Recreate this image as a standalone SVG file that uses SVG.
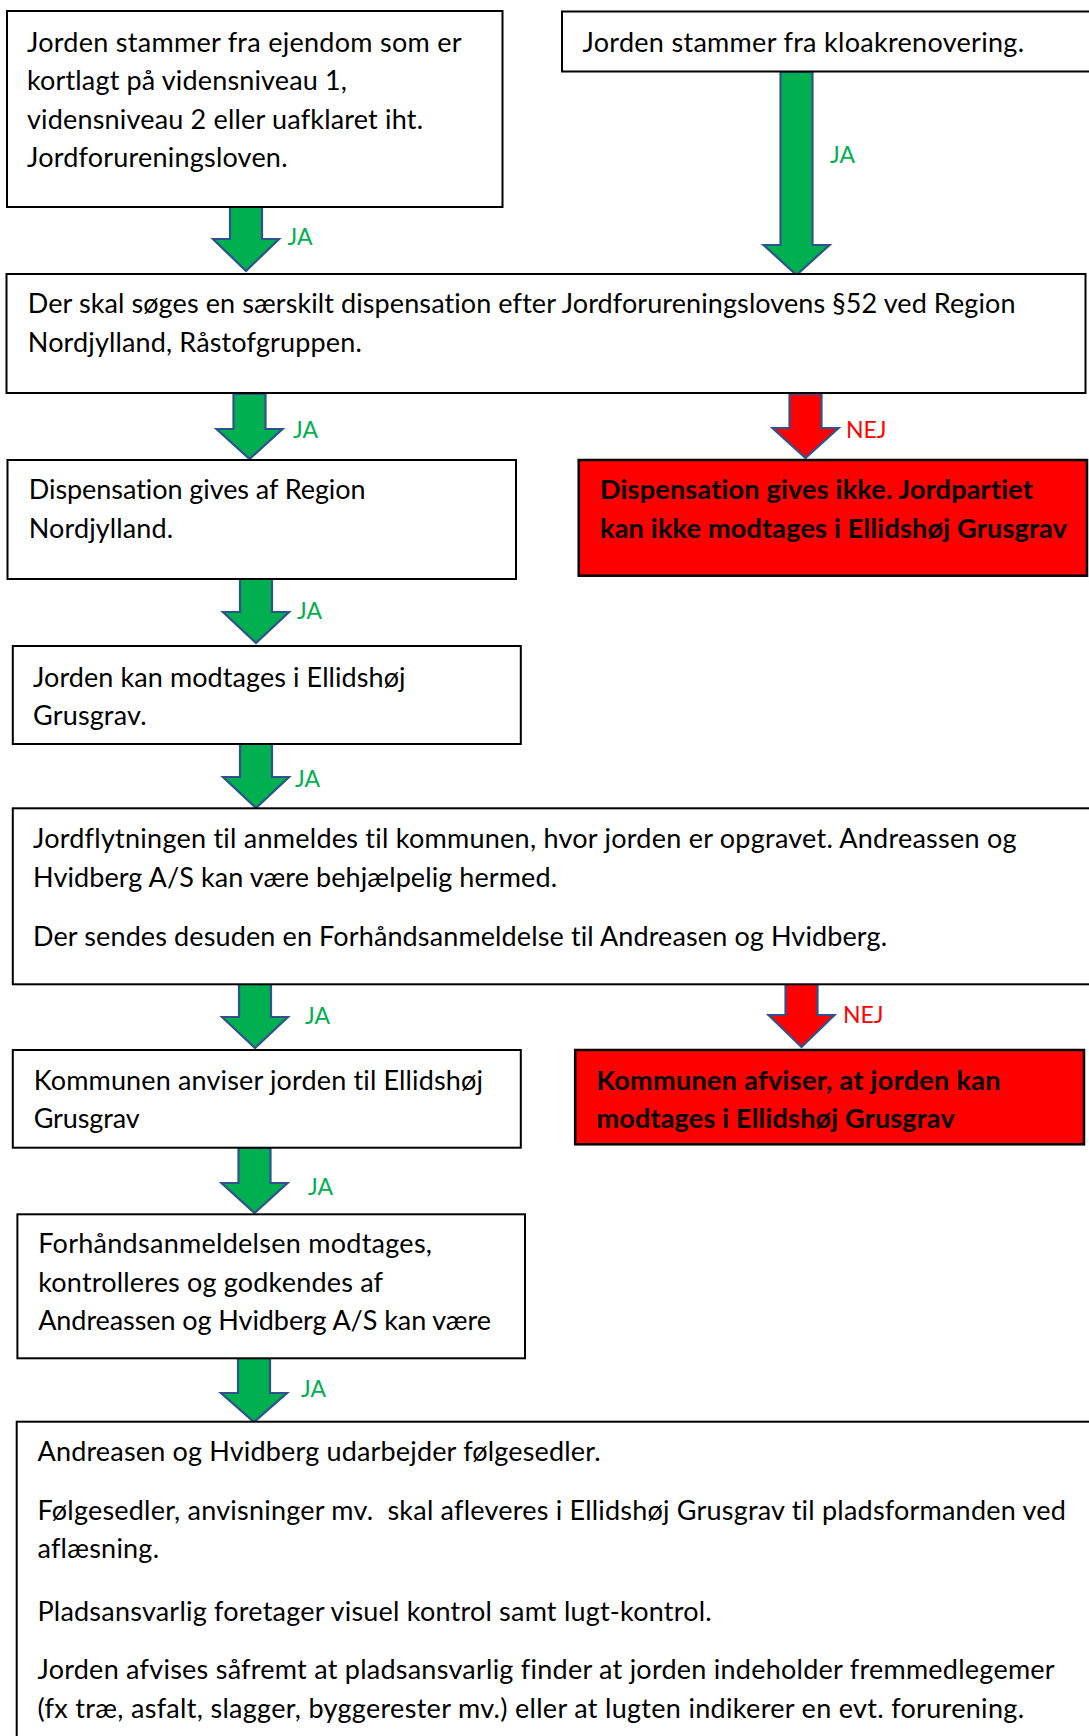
<svg xmlns="http://www.w3.org/2000/svg" width="1089" height="1736" viewBox="0 0 1089 1736">
<style>
.box{fill:#fff;stroke:#000;stroke-width:2}
.rbox{fill:#ff0000;stroke:#000;stroke-width:2.5}
.t{font-family:Lato,"Liberation Sans",sans-serif;font-size:27px;fill:#000;white-space:pre;font-variant-ligatures:none;font-feature-settings:"liga" 0,"clig" 0}
.b{font-weight:bold}
.ja{font-family:Lato,"Liberation Sans",sans-serif;font-size:23px;fill:#00b050}
.nej{font-family:Lato,"Liberation Sans",sans-serif;font-size:23px;fill:#ff0000}
.ag{fill:#00b050;stroke:#2f528f;stroke-width:2.2;stroke-linejoin:miter}
.ar{fill:#ff0000;stroke:#2f528f;stroke-width:2.2;stroke-linejoin:miter}
</style>
<rect width="1089" height="1736" fill="#fff"/>
<g id="connectors">
<path class="ag" d="M230,207 H262 V239 H279 L246,271 L213,239 H230 Z"/>
<path class="ag" d="M780.5,72 H812.5 V245 H829.5 L796.5,275 L763.5,245 H780.5 Z"/>
<path class="ag" d="M233.5,394 H265.5 V429 H282.5 L249.5,459 L216.5,429 H233.5 Z"/>
<path class="ar" d="M789.5,394 H821.5 V428 H838.5 L805.5,458 L772.5,428 H789.5 Z"/>
<path class="ag" d="M240,579 H272 V612 H289 L256,643 L223,612 H240 Z"/>
<path class="ag" d="M240,744 H272 V777 H289 L256,808 L223,777 H240 Z"/>
<path class="ag" d="M239,984 H271 V1017 H288 L255,1048 L222,1017 H239 Z"/>
<path class="ar" d="M785.5,982 H817.5 V1015 H834.5 L801.5,1047 L768.5,1015 H785.5 Z"/>
<path class="ag" d="M238.5,1148 H270.5 V1183 H287.5 L254.5,1213 L221.5,1183 H238.5 Z"/>
<path class="ag" d="M238,1358 H270 V1393 H287 L254,1422 L221,1393 H238 Z"/>
<text class="ja" x="287.5" y="245">JA</text>
<text class="ja" x="830" y="163">JA</text>
<text class="ja" x="293" y="438">JA</text>
<text class="nej" x="846" y="438">NEJ</text>
<text class="ja" x="297" y="619">JA</text>
<text class="ja" x="295" y="787">JA</text>
<text class="ja" x="305" y="1024">JA</text>
<text class="nej" x="843" y="1023">NEJ</text>
<text class="ja" x="308" y="1195">JA</text>
<text class="ja" x="301" y="1397">JA</text>
</g>
<g id="n1">
<rect class="box" x="7" y="11" width="495.5" height="196"/>
<text class="t" x="27" y="51.5" textLength="434.5">Jorden stammer fra ejendom som er</text>
<text class="t" x="27" y="90" textLength="320">kortlagt på vidensniveau 1,</text>
<text class="t" x="27" y="128.5" textLength="396">vidensniveau 2 eller uafklaret iht.</text>
<text class="t" x="27" y="166.5" textLength="260.5">Jordforureningsloven.</text>
</g>
<g id="n2">
<rect class="box" x="562" y="11.5" width="540" height="60"/>
<text class="t" x="582.5" y="51.5" textLength="441.5">Jorden stammer fra kloakrenovering.</text>
</g>
<g id="n3">
<rect class="box" x="6.5" y="274" width="1079" height="119"/>
<text class="t" x="27.8" y="313.2" textLength="987.7">Der skal søges en særskilt dispensation efter Jordforureningslovens §52 ved Region</text>
<text class="t" x="27.8" y="351.5" textLength="334">Nordjylland, Råstofgruppen.</text>
</g>
<g id="n4">
<rect class="box" x="7.5" y="460" width="508.5" height="119"/>
<text class="t" x="28.8" y="498.5" textLength="336.8">Dispensation gives af Region</text>
<text class="t" x="28.8" y="537.5" textLength="144.2">Nordjylland.</text>
</g>
<g id="n5">
<rect class="rbox" x="578.7" y="460" width="508.3" height="115.7"/>
<text class="t b" x="600" y="498.5" textLength="432.8">Dispensation gives ikke. Jordpartiet</text>
<text class="t b" x="600" y="537.5" textLength="466.9">kan ikke modtages i Ellidshøj Grusgrav</text>
</g>
<g id="n6">
<rect class="box" x="12.8" y="646" width="508" height="98"/>
<text class="t" x="33" y="686.5" textLength="372.6">Jorden kan modtages i Ellidshøj</text>
<text class="t" x="33" y="724.5" textLength="113.5">Grusgrav.</text>
</g>
<g id="n7">
<rect class="box" x="12.8" y="808.3" width="1090" height="176"/>
<text class="t" x="33" y="848.2" textLength="983.5">Jordflytningen til anmeldes til kommunen, hvor jorden er opgravet. Andreassen og</text>
<text class="t" x="33" y="886.5" textLength="524">Hvidberg A/S kan være behjælpelig hermed.</text>
<text class="t" x="33" y="945.5" textLength="854">Der sendes desuden en Forhåndsanmeldelse til Andreasen og Hvidberg.</text>
</g>
<g id="n8">
<rect class="box" x="12.8" y="1050" width="508" height="97.7"/>
<text class="t" x="33.7" y="1089.5" textLength="449.3">Kommunen anviser jorden til Ellidshøj</text>
<text class="t" x="33.7" y="1128.2" textLength="105.9">Grusgrav</text>
</g>
<g id="n9">
<rect class="rbox" x="575.2" y="1050" width="508.8" height="94.3"/>
<text class="t b" x="596.4" y="1089.5" textLength="404.1">Kommunen afviser, at jorden kan</text>
<text class="t b" x="596.4" y="1128.2" textLength="358.3">modtages i Ellidshøj Grusgrav</text>
</g>
<g id="n10">
<rect class="box" x="17.4" y="1214.3" width="507.6" height="144"/>
<text class="t" x="38.2" y="1253.2" textLength="393.8">Forhåndsanmeldelsen modtages,</text>
<text class="t" x="38.2" y="1291.5" textLength="344.8">kontrolleres og godkendes af</text>
<text class="t" x="38.2" y="1329.8" textLength="452.8">Andreassen og Hvidberg A/S kan være</text>
</g>
<g id="n11">
<rect class="box" x="16.7" y="1421.7" width="1090" height="330"/>
<text class="t" x="37.5" y="1460.5" textLength="563.1">Andreasen og Hvidberg udarbejder følgesedler.</text>
<text class="t" x="37.5" y="1519.5" textLength="1028.3">Følgesedler, anvisninger mv.  skal afleveres i Ellidshøj Grusgrav til pladsformanden ved</text>
<text class="t" x="37.5" y="1558.2" textLength="121.5">aflæsning.</text>
<text class="t" x="37.5" y="1620.5" textLength="674.2">Pladsansvarlig foretager visuel kontrol samt lugt-kontrol.</text>
<text class="t" x="37.5" y="1679.2" textLength="1017.2">Jorden afvises såfremt at pladsansvarlig finder at jorden indeholder fremmedlegemer</text>
<text class="t" x="37.5" y="1717.5" textLength="986.5">(fx træ, asfalt, slagger, byggerester mv.) eller at lugten indikerer en evt. forurening.</text>
</g>
</svg>
